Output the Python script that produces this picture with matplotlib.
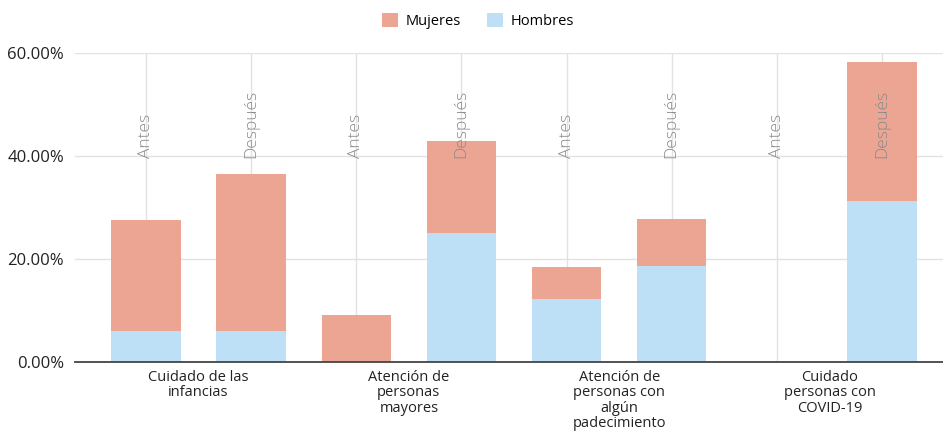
import numpy as np
import matplotlib
matplotlib.use('Agg')
import matplotlib.pyplot as plt
from matplotlib.ticker import FuncFormatter

plt.rcParams['font.family'] = ['Open Sans', 'DejaVu Sans']

categorias = ['Cuidado de las\ninfancias', 'Atención de\npersonas\nmayores',
              'Atención de\npersonas con\nalgún\npadecimiento', 'Cuidado\npersonas con\nCOVID-19']
periodos = ['Antes', 'Después']

# porcentajes por barra: (categoria, periodo) en orden
hombres = [6.1, 6.1, 0.0, 25.0, 12.3, 18.6, 0.0, 31.2]
mujeres = [21.5, 30.4, 9.1, 18.0, 6.1, 9.1, 0.0, 27.1]

COLOR_M = '#eca593'
COLOR_H = '#bee0f7'

fig = plt.figure(figsize=(9.43, 4.32), dpi=100)
ax = fig.add_axes([75/943, 1-362/432, 1-75/943, (362-53)/432])

x = np.arange(len(hombres))
w = 0.66
ax.bar(x, hombres, width=w, color=COLOR_H, label='Hombres', zorder=2)
ax.bar(x, mujeres, width=w, bottom=hombres, color=COLOR_M, label='Mujeres', zorder=2)

# etiquetas Antes / Después sobre cada barra
for i in x:
    ax.text(i, 39.6, periodos[i % 2], rotation=90, ha='center', va='bottom',
            color='#8a8a8a', fontsize=12.5, fontweight='light', zorder=3)

ax.set_ylim(0, 60)
ax.set_xlim(-0.675, 7.58)
ax.set_yticks([0, 20, 40, 60])
ax.yaxis.set_major_formatter(FuncFormatter(lambda v, p: f'{v:.2f}%'))
ax.tick_params(axis='y', length=0, labelsize=12, pad=8, colors='#222222')
ax.set_xticks(x)
ax.set_xticklabels([])
ax.tick_params(axis='x', length=0)
ax.grid(True, color='#e2e2e2', linewidth=1, zorder=0)
for s in ['top', 'right', 'left']:
    ax.spines[s].set_visible(False)
ax.spines['bottom'].set_color('#444444')
ax.spines['bottom'].set_linewidth(1.3)
ax.spines['bottom'].set_zorder(4)

for g, cat in enumerate(categorias):
    ax.text(2 * g + 0.5, -1.5, cat, ha='center', va='top', fontsize=10.5,
            color='#222222', linespacing=1.05)

handles, labels = ax.get_legend_handles_labels()
fig.legend(handles[::-1], labels[::-1], loc='upper center', bbox_to_anchor=(0.507, 1.0),
           ncol=2, frameon=False, fontsize=10.5, handlelength=1.1, handleheight=1.1,
           columnspacing=1.8, handletextpad=0.5)

fig.savefig('out.png', dpi=100)
